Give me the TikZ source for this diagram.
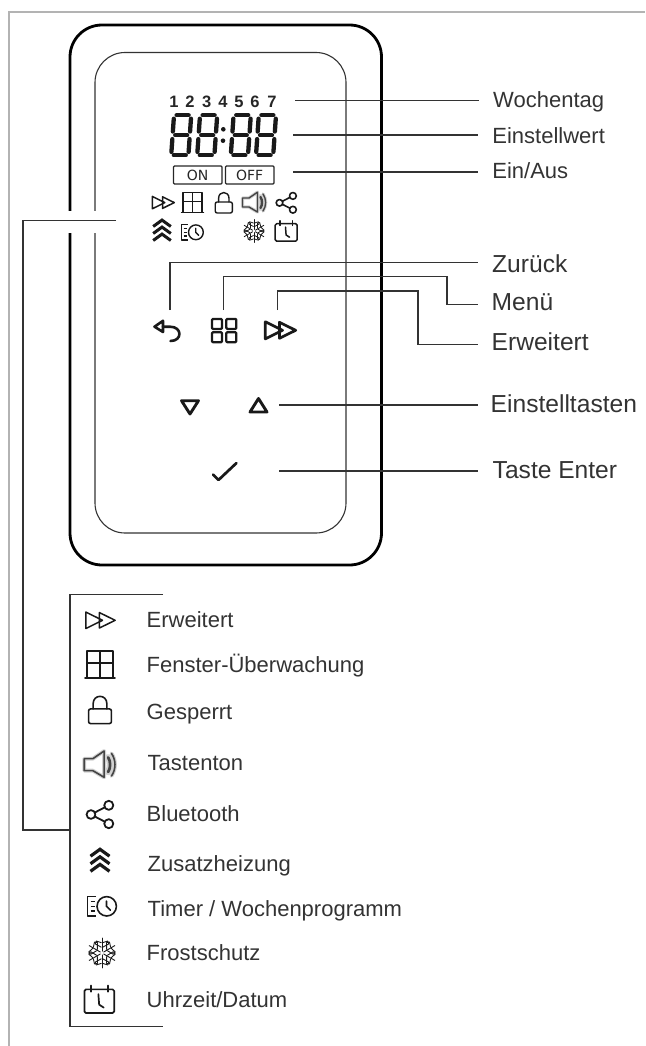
\documentclass[tikz,border=0pt]{standalone}
\usepackage{fontspec}
\setmainfont{Liberation Sans}
\newfontfamily\dejafont{DejaVu Sans}
\definecolor{framegray}{HTML}{B3B3B3}
\definecolor{ink}{HTML}{333333}
\definecolor{speakergray}{HTML}{444444}
\tikzset{
  lbla/.style={anchor=base west,inner sep=0pt,text=ink,font=\fontsize{22}{26}\selectfont},
  lblb/.style={anchor=base west,inner sep=0pt,text=ink,font=\fontsize{24.6}{28}\selectfont},
  leader/.style={draw=ink,line width=1.3pt},
  daynum/.style={inner sep=0pt,font=\fontsize{16.5}{18}\selectfont\bfseries,text=black!85},
  onoff/.style={draw=black!85,line width=1.3pt,rounded corners=1pt,minimum width=48.5pt,minimum height=18pt,inner sep=0pt,text=black!85,font=\dejafont\fontsize{14}{16}\selectfont},
  icon/.style={draw=black!90,line join=round,line cap=round},
}
\newcommand\icFF[4]{\begin{scope}[shift={(#1,#2)},scale=#3,line width=#4pt]
  \draw[icon] (-11,-6.2) -- (1.5,0) -- (-11,6.2) -- cycle;
  \draw[icon] (-0.8,-5.8) -- (11,0) -- (-0.8,5.8) -- cycle;
\end{scope}}
\newcommand\icWin[4]{\begin{scope}[shift={(#1,#2)},scale=#3,line width=#4pt]
  \draw[icon,line cap=butt] (-9.5,9.5) -- (-9.5,-10) -- (9.5,-10) -- (9.5,9.5);
  \draw[icon,line cap=butt] (0,-10) -- (0,9.5) (-9.5,-1) -- (9.5,-1);
  \draw[icon] (-11,9.8) -- (11,9.8);
\end{scope}}
\newcommand\icLock[4]{\begin{scope}[shift={(#1,#2)},scale=#3,line width=#4pt]
  \draw[icon,rounded corners=2pt] (-8.6,-0.8) rectangle (8.6,10.2);
  \draw[icon] (-5.2,-0.8) -- (-5.2,-4.5) .. controls (-5.2,-12.2) and (5.2,-12.2) .. (5.2,-4.5) -- (5.2,-0.8);
\end{scope}}
\newcommand\spkpaths[2]{%
  \draw[icon,draw=#1,line width=#2pt] (-11.5,-4) -- (-5,-4) -- (3.5,-9.8) -- (3.5,10) -- (-5,5) -- (-11.5,5) -- cycle;
  \draw[icon,draw=#1,line width=1.7*#2pt] (6.5,-5) .. controls (8.5,-2) and (8.5,3) .. (6.5,6);
  \draw[icon,draw=#1,line width=#2pt] (9,-8) .. controls (12.5,-3) and (12.5,4) .. (9,9);}
\newcommand\icSpk[4]{\begin{scope}[shift={(#1,#2)},scale=#3]
  \spkpaths{black!18}{#4*2.4}
  \spkpaths{speakergray}{#4}
\end{scope}}
\newcommand\icShare[4]{\begin{scope}[shift={(#1,#2)},scale=#3,line width=#4pt]
  \draw[icon] (-6.8,0) circle (3.3);
  \draw[icon] (6.6,-6.9) circle (3.4);
  \draw[icon] (6.6,6.9) circle (3.4);
  \draw[icon] (-3.9,-1.5) -- (3.6,-5.4) (-3.9,1.5) -- (3.6,5.4);
\end{scope}}
\newcommand\icChev[4]{\begin{scope}[shift={(#1,#2)},scale=#3,line width=#4pt]
  \foreach \yy in {-10.4,-3.4,3.6}{
    \draw[draw=black!90,line join=miter] (-8.8,\yy+6.4) -- (0,\yy) -- (8.8,\yy+6.4);
  }
\end{scope}}
\newcommand\icTimer[4]{\begin{scope}[shift={(#1,#2)},scale=#3,line width=#4pt]
  \draw[icon,line cap=butt] (-4.5,-7.6) -- (-11,-7.6) -- (-11,7.6) -- (-4.5,7.6);
  \draw[icon,line cap=butt] (-8.6,-3.8) -- (-5,-3.8) (-8.6,0) -- (-5.6,0) (-8.6,3.8) -- (-5,3.8);
  \draw[icon] (3.6,0) circle (7.4);
  \draw[icon] (3.4,-4) -- (3.4,0) -- (6.4,3);
\end{scope}}
\newcommand\icSnow[4]{\begin{scope}[shift={(#1,#2)},scale=#3,line width=#4pt]
  \foreach \aa in {30,90,...,330}{
    \begin{scope}[rotate=\aa]
      \draw[icon] (1.5,0) -- (11.4,0);
      \draw[icon] (4.5,-0.6) -- (7,-5.2) -- (9.2,-4.4) -- (8,-0.6);
      \draw[icon] (4.5,0.6) -- (7,5.2) -- (9.2,4.4) -- (8,0.6);
    \end{scope}
  }
\end{scope}}
\newcommand\icCal[4]{\begin{scope}[shift={(#1,#2)},scale=#3,line width=#4pt]
  \draw[icon,rounded corners=1.5pt] (-11,-7.5) rectangle (11,10);
  \draw[icon] (-6.4,-10.4) -- (-6.4,-5.8) (6.4,-10.4) -- (6.4,-5.8);
  \draw[icon] (-0.7,-4) -- (-0.1,3.8) -- (3.3,6);
\end{scope}}
\newcommand\segdigit[2]{\begin{scope}[shift={(#1,#2)},xslant=.07,line width=4.3pt,line cap=round,draw=black!90]
  \draw (-6,-20) -- (6,-20);
  \draw (-6,0) -- (6,0);
  \draw (-6,20) -- (6,20);
  \draw (-8.6,-16.6) -- (-8.6,-3.8);
  \draw (8.6,-16.6) -- (8.6,-3.8);
  \draw (-8.6,3.8) -- (-8.6,16.6);
  \draw (8.6,3.8) -- (8.6,16.6);
\end{scope}}
\begin{document}
\begin{tikzpicture}[x=1pt,y=-1pt]
\useasboundingbox (0,0) rectangle (645,1046);
% frame
\draw[framegray,line width=2.4pt] (9,1046) -- (9,12) -- (645,12);
% device
\draw[black,line width=2.8pt,rounded corners=32pt] (70,25) rectangle (381.5,565);
\draw[ink,line width=1.1pt,rounded corners=30pt] (95,52.5) rectangle (346,533);
% gap in the device outline for the bracket leader
\fill[white] (60,211) rectangle (105,232.5);
% coordinates for free leader ends
\coordinate (wtA) at (295,100.5); \coordinate (wtB) at (479,100.5);
\coordinate (ewA) at (293,135); \coordinate (ewB) at (478,135);
\coordinate (eaA) at (293,172); \coordinate (eaB) at (478,172);
\coordinate (zuA) at (170,310); \coordinate (zuK) at (170,262.7); \coordinate (zuB) at (478,262.7);
\coordinate (meA) at (223.7,310); \coordinate (meK) at (223.7,276.7); \coordinate (meL) at (447,276.7); \coordinate (meM) at (447,304.7); \coordinate (meB) at (478,304.7);
\coordinate (erA) at (277.7,310); \coordinate (erK) at (277.7,291); \coordinate (erL) at (418,291); \coordinate (erM) at (418,344.3); \coordinate (erB) at (478,344.3);
\coordinate (etA) at (279,405); \coordinate (etB) at (478,405);
\coordinate (enA) at (279,471); \coordinate (enB) at (478,471);
\coordinate (brA) at (116,220.7); \coordinate (brK) at (23,220.7); \coordinate (brL) at (23,830); \coordinate (brB) at (70,830);
\coordinate (liT) at (163,594.7); \coordinate (liTL) at (70,594.7); \coordinate (liBL) at (70,1026.7); \coordinate (liB) at (163,1026.7);
\draw[leader] (wtA) -- (wtB);
\draw[leader] (ewA) -- (ewB);
\draw[leader] (eaA) -- (eaB);
\draw[leader] (zuA) -- (zuK) -- (zuB);
\draw[leader] (meA) -- (meK) -- (meL) -- (meM) -- (meB);
\draw[leader] (erA) -- (erK) -- (erL) -- (erM) -- (erB);
\draw[leader] (etA) -- (etB);
\draw[leader] (enA) -- (enB);
\draw[leader] (brA) -- (brK) -- (brL) -- (brB);
\draw[leader] (liT) -- (liTL) -- (liBL) -- (liB);
% right labels
\node[lbla] (tWochentag) at (493,107.5) {Wochentag};
\node[lbla] (tEinstellwert) at (492.2,143.3) {Einstellwert};
\node[lbla] (tEinAus) at (492.2,178.7) {Ein/Aus};
\node[lblb] (tZurueck) at (492,272.3) {Zurück};
\node[lblb] (tMenue) at (491.5,310.7) {Menü};
\node[lblb] (tErweitert) at (491.5,350.7) {Erweitert};
\node[lblb] (tTasten) at (490.5,412.7) {Einstelltasten};
\node[lblb] (tEnter) at (492.5,478) {Taste Enter};
% list labels
\node[lbla] (lErweitert) at (146.5,627.7) {Erweitert};
\node[lbla] (lFenster) at (146.5,672.7) {Fenster-Überwachung};
\node[lbla] (lGesperrt) at (146.5,719.3) {Gesperrt};
\node[lbla] (lTastenton) at (147.5,770) {Tastenton};
\node[lbla] (lBluetooth) at (146.5,821) {Bluetooth};
\node[lbla] (lZusatz) at (147.5,871) {Zusatzheizung};
\node[lbla] (lTimer) at (147.5,916) {Timer / Wochenprogramm};
\node[lbla] (lFrost) at (146.5,960.5) {Frostschutz};
\node[lbla] (lUhr) at (146.5,1007) {Uhrzeit/Datum};
% weekday digits
\node[daynum] (d1) at (174,101.7) {1};
\node[daynum] (d2) at (190,101.7) {2};
\node[daynum] (d3) at (206.7,101.7) {3};
\node[daynum] (d4) at (223,101.7) {4};
\node[daynum] (d5) at (239,101.7) {5};
\node[daynum] (d6) at (255,101.7) {6};
\node[daynum] (d7) at (272,101.7) {7};
% seven segment display
\segdigit{181.2}{135.3}
\segdigit{207.2}{135.3}
\segdigit{240.8}{135.3}
\segdigit{266}{135.3}
\fill[black!90] (223.3,129.3) circle (2.3) (223,140.7) circle (2.3);
% on / off
\node[onoff] (bon) at (197.7,175) {ON};
\node[onoff] (boff) at (249.7,175) {OFF};
% display icons
\icFF{163.3}{202.6}{1}{1.5}
\icWin{192.5}{202.5}{1}{1.5}
\icLock{223.8}{202.8}{1}{1.4}
\icSpk{254}{202}{1}{1.4}
\icShare{286.3}{202.8}{1}{1.6}
\icChev{162}{230.5}{1}{3}
\icTimer{192.3}{232.3}{1}{1.4}
\icSnow{254}{231}{1}{.8}
\icCal{286.2}{231.2}{1}{1.5}
% buttons
\draw[icon,line width=2.6pt] (154.5,326.7) -- (163,320.8) -- (163,332) -- cycle;
\draw[icon,line width=2.6pt] (163,326.7) -- (170,326.7) .. controls (182.5,326.7) and (182.5,341) .. (170.5,341);
\draw[icon,line width=2.3pt,rounded corners=1pt] (212,318.9) rectangle (222,328.9);
\draw[icon,line width=2.3pt,rounded corners=1pt] (226.3,318.9) rectangle (236.3,328.9);
\draw[icon,line width=2.3pt,rounded corners=1pt] (212,332.2) rectangle (222,342.2);
\draw[icon,line width=2.3pt,rounded corners=1pt] (226.3,332.2) rectangle (236.3,342.2);
\icFF{280.5}{330.3}{1.38}{2.7}
\draw[icon,line width=2.9pt] (181.5,400.7) -- (198.5,400.7) -- (190,414) -- cycle;
\draw[icon,line width=2.9pt] (250,412) -- (267,412) -- (258.5,398.5) -- cycle;
\draw[icon,line width=2.7pt] (213,474.5) -- (218.5,480) -- (236.5,463);
% list icons
\icFF{100.5}{620.3}{1.33}{1.5}
\icWin{100}{664.5}{1.36}{1.7}
\icLock{100}{710}{1.33}{1.6}
\icSpk{99.5}{764}{1.33}{1.6}
\icShare{100}{814.5}{1.33}{1.8}
\icChev{100}{860.5}{1.08}{3.2}
\icTimer{102}{906.3}{1.31}{1.6}
\icSnow{102}{953}{1.3}{.9}
\icCal{99.3}{999.5}{1.35}{1.7}
\end{tikzpicture}
\end{document}
